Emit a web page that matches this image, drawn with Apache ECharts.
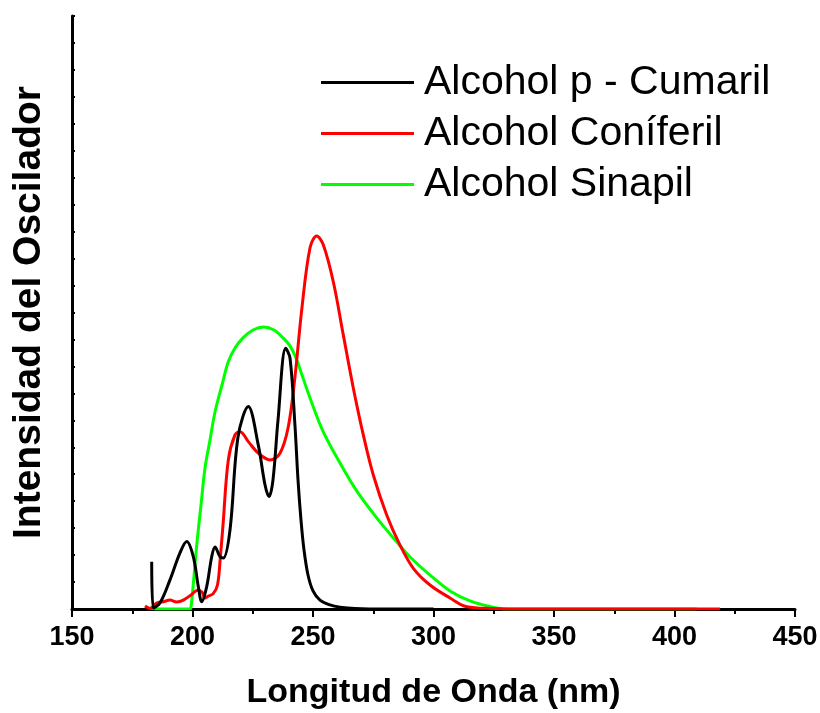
<!DOCTYPE html>
<html>
<head>
<meta charset="utf-8">
<script src="https://cdn.jsdelivr.net/npm/echarts@6/dist/echarts.min.js"></script>
<style>html,body{margin:0;padding:0;background:#fff;}#c{width:820px;height:713px;}</style>
</head>
<body>
<div id="c"></div>
<script>
// ---- data (wavelength nm, oscillator intensity in arbitrary units) ----
const seriesNames = ['Alcohol p - Cumaril', 'Alcohol Coníferil', 'Alcohol Sinapil'];

const cumarilX = [183.07, 183.73, 186.5, 190.66, 194.81, 197.59, 200.33, 202.41, 203.82, 205.89, 207.97, 209.34, 211.41, 212.78, 215.56, 218.88, 223.15, 227.3, 230.1, 231.74, 233.4, 235.48, 238.67, 240.46, 242.53, 243.78, 245.02, 246.27, 247.93, 250.0, 252.9, 257.05, 261.2, 267.4, 280, 300];
const cumarilY = [1.755, 0.03, 0.22, 1.08, 2.08, 2.50, 1.94, 0.83, 0.27, 0.83, 1.94, 2.30, 1.94, 1.89, 2.93, 6.38, 7.51, 6.08, 4.6, 4.17, 4.79, 7.01, 9.67, 9.31, 6.79, 4.79, 3.30, 2.19, 1.26, 0.67, 0.33, 0.15, 0.07, 0.02, 0, 0];

const coniferilX = [180.29, 182.37, 185.15, 187.88, 190.66, 193.44, 196.18, 199.67, 202.07, 203.94, 205.19, 206.56, 208.51, 210.37, 211.62, 212.66, 214.86, 217.63, 219.71, 223.15, 227.3, 232.16, 236.31, 239.75, 242.53, 245.31, 248.76, 251.54, 254.27, 258.42, 262.57, 266.72, 270.87, 275.02, 280.58, 286.1, 291.62, 298.55, 306.85, 313.78, 324.15, 340, 418.9];
const coniferilY = [0.11, 0.02, 0.22, 0.27, 0.33, 0.26, 0.33, 0.54, 0.70, 0.63, 0.41, 0.48, 0.56, 0.89, 2.0, 3.12, 5.53, 6.46, 6.58, 6.21, 5.78, 5.53, 5.78, 6.76, 8.62, 11.09, 13.40, 13.84, 13.51, 12.14, 10.17, 8.20, 6.46, 4.97, 3.49, 2.37, 1.51, 0.89, 0.41, 0.085, 0.02, 0, 0];

const sinapilX = [182.37, 184.4, 198.96, 199.38, 200.41, 201.45, 202.49, 203.53, 205.19, 207.26, 209.34, 212.24, 214.85, 217.63, 220.95, 225.10, 229.46, 233.82, 237.55, 240.46, 242.95, 245.44, 248.76, 254.27, 261.20, 268.13, 276.43, 284.73, 290.25, 298.55, 306.85, 315.15, 323.44, 330.37, 409.2];
const sinapilY = [0.04, 0, 0, 0.07, 1.00, 2.08, 3.01, 3.86, 5.23, 6.27, 7.31, 8.31, 9.17, 9.68, 10.06, 10.35, 10.46, 10.35, 10.06, 9.76, 9.31, 8.68, 7.83, 6.57, 5.42, 4.38, 3.38, 2.49, 1.93, 1.26, 0.67, 0.30, 0.09, 0, 0];

const colors = ['#000000', '#ff0000', '#00ff00'];
const xs = [cumarilX, coniferilX, sinapilX];
const ys = [cumarilY, coniferilY, sinapilY];

const FONT = '"Liberation Sans", Arial, sans-serif';

const chart = echarts.init(document.getElementById('c'), null, {renderer: 'canvas'});
chart.setOption({
  backgroundColor: '#ffffff',
  animation: false,
  grid: {left: 72, right: 25, top: 16, bottom: 104, containLabel: false, outerBoundsMode: 'none'},
  legend: {
    orient: 'vertical',
    left: 316,
    top: 57,
    icon: 'rect',
    itemWidth: 93,
    itemHeight: 3,
    itemGap: 10,
    textStyle: {fontFamily: FONT, fontSize: 41, color: '#000', lineHeight: 40, padding: [0, 0, 0, 5]},
    data: seriesNames
  },
  xAxis: {
    type: 'value',
    min: 150, max: 450, interval: 50,
    name: 'Longitud de Onda (nm)',
    nameLocation: 'middle',
    nameGap: 67,
    nameTextStyle: {fontFamily: FONT, fontSize: 34, fontWeight: 'bold', color: '#000'},
    axisLine: {show: true, onZero: false, lineStyle: {color: '#000', width: 3}},
    axisTick: {show: true, inside: false, length: 8, lineStyle: {color: '#000', width: 2}},
    minorTick: {show: true, splitNumber: 2, length: 5, lineStyle: {color: '#000', width: 2}},
    axisLabel: {fontFamily: FONT, fontSize: 27, fontWeight: 'bold', color: '#000', margin: 15},
    splitLine: {show: false}
  },
  yAxis: {
    type: 'value',
    min: 0, max: 22, interval: 1,
    name: 'Intensidad del Oscilador',
    nameLocation: 'middle',
    nameGap: 23,
    nameTextStyle: {fontFamily: FONT, fontSize: 39, fontWeight: 'bold', color: '#000'},
    axisLine: {show: true, onZero: false, lineStyle: {color: '#000', width: 3}},
    axisTick: {show: true, inside: true, length: 3, lineStyle: {color: '#000', width: 2}},
    axisLabel: {show: false},
    splitLine: {show: false}
  },
  series: seriesNames.map((n, i) => ({
    name: n,
    type: 'line',
    data: xs[i].map((x, j) => [x, ys[i][j]]),
    showSymbol: false,
    symbol: 'none',
    smooth: 0.35,
    lineStyle: {color: colors[i], width: 3},
    itemStyle: {color: colors[i]},
    z: 3 + (i === 2 ? 0 : (i === 1 ? 1 : 2))
  }))
});
</script>
</body>
</html>
